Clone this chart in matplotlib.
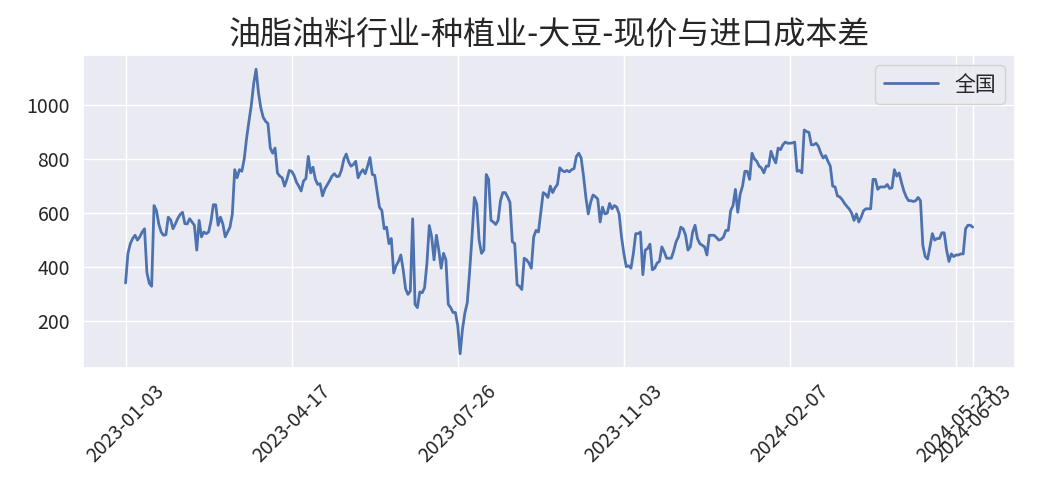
import numpy as np
import matplotlib
matplotlib.use("Agg")
import matplotlib.pyplot as plt
import seaborn as sns

title = "油脂油料行业-种植业-大豆-现价与进口成本差"
series_name = "全国"

# one value per trading day, 2023-01-03 .. 2024-06-03
values = [
    341, 450, 487, 506, 518, 500, 512, 530, 542, 380,
    340, 329, 628, 610, 560, 530, 518, 520, 585, 575,
    542, 560, 580, 595, 603, 561, 560, 579, 567, 555,
    463, 573, 512, 530, 524, 530, 570, 631, 631, 555,
    585, 560, 512, 530, 548, 597, 761, 731, 761, 755,
    800, 877, 940, 1000, 1080, 1133, 1047, 990, 955, 940,
    932, 841, 822, 841, 749, 737, 731, 700, 725, 758,
    755, 740, 715, 700, 682, 719, 728, 810, 749, 770,
    725, 706, 709, 664, 690, 705, 720, 737, 746, 735,
    737, 760, 800, 819, 790, 774, 780, 792, 731, 749,
    761, 746, 774, 806, 743, 740, 682, 622, 610, 542,
    548, 487, 506, 378, 405, 421, 445, 390, 320, 299,
    311, 579, 262, 250, 308, 305, 323, 414, 554, 512,
    427, 518, 463, 396, 451, 427, 262, 250, 232, 232,
    183, 79, 171, 230, 268, 384, 512, 658, 634, 500,
    451, 463, 743, 725, 573, 567, 558, 573, 646, 676,
    676, 660, 640, 494, 487, 335, 329, 317, 433, 427,
    415, 396, 512, 536, 530, 603, 676, 670, 658, 700,
    676, 694, 706, 768, 758, 753, 758, 753, 761, 765,
    810, 822, 804, 737, 658, 597, 640, 667, 661, 652,
    567, 622, 597, 600, 636, 616, 628, 622, 597, 512,
    450, 402, 405, 396, 451, 524, 524, 530, 372, 463,
    469, 485, 390, 396, 415, 421, 475, 457, 433, 433,
    433, 460, 494, 512, 548, 542, 518, 463, 475, 530,
    555, 506, 487, 481, 475, 445, 518, 518, 518, 510,
    500, 503, 512, 536, 536, 609, 628, 688, 603, 670,
    700, 755, 755, 725, 822, 801, 792, 774, 767, 749,
    774, 774, 829, 804, 786, 841, 835, 853, 863, 859,
    859, 860, 863, 755, 758, 749, 908, 902, 899, 853,
    853, 859, 847, 822, 804, 813, 792, 774, 700, 697,
    664, 660, 650, 636, 625, 615, 600, 573, 597, 567,
    585, 609, 616, 616, 616, 725, 725, 688, 697, 697,
    697, 706, 691, 694, 761, 737, 749, 713, 682, 660,
    646, 646, 643, 646, 658, 646, 480, 439, 430, 475,
    524, 500, 506, 506, 527, 527, 463, 421, 449, 439,
    445, 445, 449, 449, 542, 555, 555, 548,
]

tick_labels = ["2023-01-03", "2023-04-17", "2023-07-26", "2023-11-03",
               "2024-02-07", "2024-05-23", "2024-06-03"]
tick_step = 70

sns.set_theme(style="darkgrid")
plt.rcParams["font.family"] = ["Noto Sans CJK SC", "DejaVu Sans"]
plt.rcParams["axes.unicode_minus"] = False

fig, ax = plt.subplots(figsize=(10.4, 5), dpi=100)
fig.subplots_adjust(left=0.08, right=0.976, top=0.89, bottom=0.264)

x = np.arange(len(values))
ax.plot(x, values, color="#4c72b0", linewidth=2, label=series_name)

ticks = list(range(0, len(values), tick_step)) + [len(values) - 1]
ax.set_xticks(ticks)
ax.set_xticklabels(tick_labels, rotation=45, fontsize=14)
ax.set_yticks([200, 400, 600, 800, 1000])
ax.tick_params(axis="y", labelsize=14)

ax.set_title(title, fontsize=23, pad=8)
ax.legend(loc="upper right", fontsize=15, handlelength=2.6)

fig.savefig("out.png", dpi=100)
